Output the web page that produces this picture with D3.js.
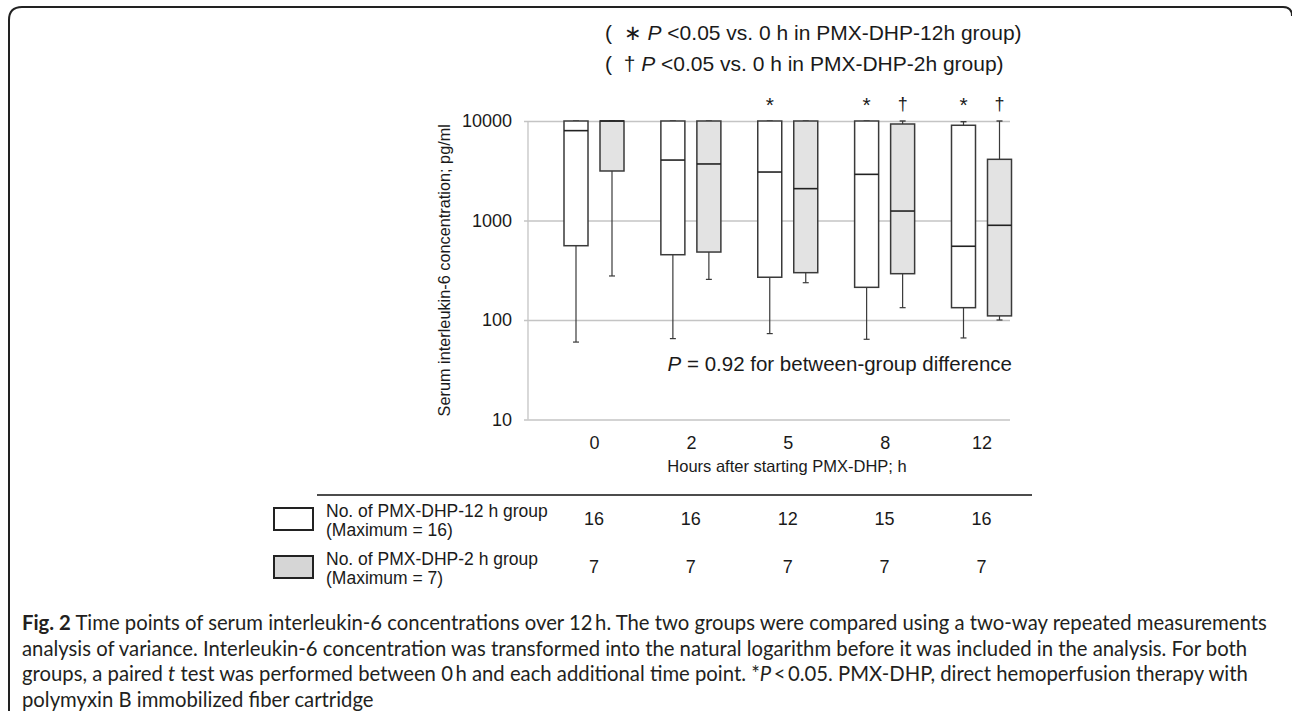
<!DOCTYPE html>
<html>
<head>
<meta charset="utf-8">
<script src="https://cdn.jsdelivr.net/npm/d3@7"></script>
<style>
    body { margin: 0; background: #fff; }
    svg { display: block; }
    text { font-family: "Liberation Sans", Arial, sans-serif; fill: #1a1a1a; }
    .caption text { font-family: Lato, "Open Sans", sans-serif; fill: #231f20; }
</style>
</head>
<body>
<svg id="Figure"></svg>
<script>
    // time points (hours after starting PMX-DHP)
    let hours = ["0", "2", "5", "8", "12"]

    // PMX-DHP-12 h group (white boxes)
    let min12 = [60, 65, 73, 64, 66]
    let q1_12 = [558, 453, 269, 213, 133]
    let med12 = [8000, 4050, 3070, 2910, 551]
    let q3_12 = [10000, 10000, 10000, 10000, 9060]
    let max12 = [10000, 10000, 10000, 10000, 9840]

    // PMX-DHP-2 h group (grey boxes)
    let min2 = [277, 256, 237, 133, 100]
    let q1_2 = [3145, 482, 299, 292, 110]
    let med2 = [10000, 3700, 2090, 1245, 895]
    let q3_2 = [10000, 10000, 10000, 9330, 4120]
    let max2 = [10000, 10000, 10000, 10000, 10000]

    // significance marks above the boxes
    let sig12 = ["", "", "*", "*", "*"]
    let sig2 = ["", "", "", "\u2020", "\u2020"]

    // number of patients per time point
    let n12 = [16, 16, 12, 15, 16]
    let n2 = [7, 7, 7, 7, 7]

    let yTicks = [10, 100, 1000, 10000]

    function getConfig() {
        let width = 1292
        let height = 711
        // plot body (the gridded area)
        let body = {left: 528, right: 1010, top: 121, bottom: 419.5}
        let container = d3.select("#Figure")
            .attr("width", width)
            .attr("height", height)
        return {width, height, body, container}
    }

    function getScales(config) {
        let {body} = config
        let xScale = d3.scalePoint()
            .domain(hours)
            .range([body.left + 66, body.right - 28.5])
        let yScale = d3.scaleLog()
            .domain([10, 10000])
            .range([body.bottom, body.top])
        return {xScale, yScale}
    }

    function buildGroups() {
        // one row per box, built from the arrays above
        let series = [
            {key: "12h", offset: -18, fill: "#ffffff", min: min12, q1: q1_12, med: med12, q3: q3_12, max: max12, sig: sig12},
            {key: "2h", offset: 18, fill: "#e3e3e3", min: min2, q1: q1_2, med: med2, q3: q3_2, max: max2, sig: sig2}
        ]
        let rows = []
        series.forEach(s => {
            hours.forEach((h, i) => {
                rows.push({
                    hour: h, key: s.key, offset: s.offset, fill: s.fill,
                    min: s.min[i], q1: s.q1[i], med: s.med[i], q3: s.q3[i], max: s.max[i], sig: s.sig[i]
                })
            })
        })
        return rows
    }

    function drawAxes(scales, config) {
        let {xScale, yScale} = scales
        let {container, body} = config

        // horizontal grid + y labels
        let axisY = d3.axisLeft(yScale)
            .tickValues(yTicks)
            .tickFormat(d3.format("d"))
            .tickSize(-(body.right - body.left + 4))
            .tickPadding(12)
        let gy = container.append("g")
            .attr("transform", `translate(${body.left - 4},0)`)
            .call(axisY)
        gy.select(".domain").remove()
        gy.selectAll("line").attr("stroke", "#c4c4c4").attr("stroke-width", 1.3)
        gy.selectAll("text")
            .style("font-family", "Liberation Sans, Arial, sans-serif")
            .style("font-size", "18px")
            .attr("fill", "#1a1a1a")

        // vertical axis line
        container.append("line")
            .attr("x1", body.left).attr("x2", body.left)
            .attr("y1", body.top).attr("y2", body.bottom)
            .attr("stroke", "#c4c4c4").attr("stroke-width", 1.3)

        // hour labels
        let axisX = d3.axisBottom(xScale).tickSize(0).tickPadding(17)
        let gx = container.append("g")
            .attr("transform", `translate(0,${body.bottom})`)
            .call(axisX)
        gx.select(".domain").remove()
        gx.selectAll("text")
            .style("font-family", "Liberation Sans, Arial, sans-serif")
            .style("font-size", "18px")
            .attr("fill", "#1a1a1a")

        container.append("text")
            .attr("x", 787).attr("y", 472)
            .attr("text-anchor", "middle")
            .style("font-size", "16.5px")
            .text("Hours after starting PMX-DHP; h")

        container.append("text")
            .attr("transform", `translate(450,${(body.top + body.bottom) / 2}) rotate(-90)`)
            .attr("text-anchor", "middle")
            .style("font-size", "16.3px")
            .text("Serum interleukin-6 concentration; pg/ml")
    }

    function drawBoxes(rows, scales, config) {
        let {xScale, yScale} = scales
        let {container} = config
        let boxW = 24
        let capW = 6
        let stroke = "#3a3a3a"

        let boxes = container.append("g")
            .selectAll(".box")
            .data(rows)
            .enter()
            .append("g")
            .attr("class", "box")
            .attr("transform", d => `translate(${xScale(d.hour) + d.offset},0)`)

        // whiskers
        boxes.append("line")
            .attr("x1", 0).attr("x2", 0)
            .attr("y1", d => yScale(d.min)).attr("y2", d => yScale(d.q1))
            .attr("stroke", stroke).attr("stroke-width", 1.2)
        boxes.append("line")
            .attr("x1", 0).attr("x2", 0)
            .attr("y1", d => yScale(d.q3)).attr("y2", d => yScale(d.max))
            .attr("stroke", stroke).attr("stroke-width", 1.2)
        boxes.append("line")
            .attr("x1", -capW / 2).attr("x2", capW / 2)
            .attr("y1", d => yScale(d.min)).attr("y2", d => yScale(d.min))
            .attr("stroke", stroke).attr("stroke-width", 1.2)
        boxes.append("line")
            .attr("x1", -capW / 2).attr("x2", capW / 2)
            .attr("y1", d => yScale(d.max)).attr("y2", d => yScale(d.max))
            .attr("stroke", stroke).attr("stroke-width", 1.4)

        boxes.append("rect")
            .attr("x", -boxW / 2)
            .attr("width", boxW)
            .attr("y", d => yScale(d.q3))
            .attr("height", d => yScale(d.q1) - yScale(d.q3))
            .attr("fill", d => d.fill)
            .attr("stroke", stroke)
            .attr("stroke-width", 1.5)

        boxes.append("line")
            .attr("x1", -boxW / 2).attr("x2", boxW / 2)
            .attr("y1", d => yScale(d.med)).attr("y2", d => yScale(d.med))
            .attr("stroke", "#222").attr("stroke-width", 1.6)

        boxes.append("text")
            .attr("y", d => d.sig == "*" ? 112 : 110)
            .attr("text-anchor", "middle")
            .style("font-size", d => d.sig == "*" ? "21px" : "18px")
            .text(d => d.sig)
    }

    function drawNotes(config) {
        let {container} = config
        let notes = [
            {y: 40, mark: "\u2217", group: "PMX-DHP-12h group)"},
            {y: 71, mark: "\u2020", group: "PMX-DHP-2h group)"}
        ]
        notes.forEach(n => {
            let t = container.append("text")
                .attr("x", 605).attr("y", n.y)
                .style("font-size", "21px")
                .style("white-space", "pre")
            t.append("tspan").text("(  " + n.mark + " ")
            t.append("tspan").style("font-style", "italic").text("P")
            t.append("tspan").text(" <0.05 vs. 0 h in " + n.group)
        })

        let p = container.append("text")
            .attr("x", 1012).attr("y", 371)
            .attr("text-anchor", "end")
            .style("font-size", "20.5px")
        p.append("tspan").style("font-style", "italic").text("P")
        p.append("tspan").text(" = 0.92 for between-group difference")
    }

    function drawTable(scales, config) {
        let {xScale} = scales
        let {container} = config

        container.append("line")
            .attr("x1", 317).attr("x2", 1032)
            .attr("y1", 495).attr("y2", 495)
            .attr("stroke", "#111").attr("stroke-width", 1.4)

        let rows = [
            {y: 519, fill: "#ffffff", label: "No. of PMX-DHP-12 h group", sub: "(Maximum = 16)", n: n12},
            {y: 567, fill: "#d6d6d6", label: "No. of PMX-DHP-2 h group", sub: "(Maximum = 7)", n: n2}
        ]
        rows.forEach(r => {
            container.append("rect")
                .attr("x", 274).attr("y", r.y - 11)
                .attr("width", 39).attr("height", 22)
                .attr("fill", r.fill)
                .attr("stroke", "#222").attr("stroke-width", 2)
            container.append("text")
                .attr("x", 326).attr("y", r.y - 2)
                .style("font-size", "17.5px")
                .text(r.label)
            container.append("text")
                .attr("x", 326).attr("y", r.y + 17)
                .style("font-size", "17.5px")
                .text(r.sub)
            container.append("g")
                .selectAll("text")
                .data(r.n)
                .enter()
                .append("text")
                .attr("x", (d, i) => xScale(hours[i]))
                .attr("y", r.y + 6)
                .attr("text-anchor", "middle")
                .style("font-size", "18px")
                .text(d => d)
        })
    }

    function drawCaption(config) {
        let {container} = config
        let g = container.append("g").attr("class", "caption")
        let lines = [
            [["b", "Fig. 2"], ["", " Time points of serum interleukin-6 concentrations over 12\u2009h. The two groups were compared using a two-way repeated measurements"]],
            [["", "analysis of variance. Interleukin-6 concentration was transformed into the natural logarithm before it was included in the analysis. For both"]],
            [["", "groups, a paired "], ["i", "t"], ["", " test was performed between 0\u2009h and each additional time point. *"], ["i", "P"], ["", "\u2009<\u20090.05. PMX-DHP, direct hemoperfusion therapy with"]],
            [["", "polymyxin B immobilized fiber cartridge"]]
        ]
        lines.forEach((parts, i) => {
            let t = g.append("text")
                .attr("x", 22)
                .attr("y", 630 + i * 25.5)
                .style("font-size", "20.3px")
            parts.forEach(([style, str]) => {
                let s = t.append("tspan").text(str)
                if (style == "b") s.style("font-weight", "bold")
                if (style == "i") s.style("font-style", "italic")
            })
        })

        // rounded frame, open at the bottom and right
        container.append("path")
            .attr("d", "M9,711 V20 Q9,7 22,7 H1283 Q1292,7 1292,16")
            .attr("fill", "none")
            .attr("stroke", "#222")
            .attr("stroke-width", 2)
    }

    function showData() {
        let config = getConfig()
        let scales = getScales(config)
        drawAxes(scales, config)
        drawBoxes(buildGroups(), scales, config)
        drawNotes(config)
        drawTable(scales, config)
        drawCaption(config)
    }

    showData()
</script>
</body>
</html>
